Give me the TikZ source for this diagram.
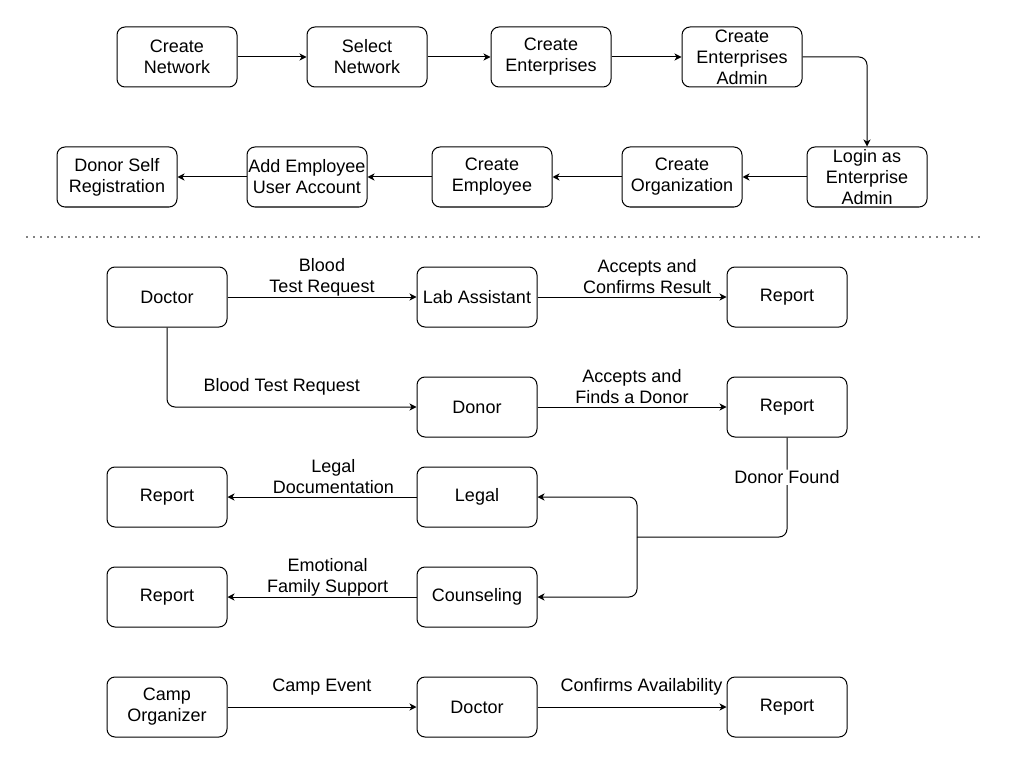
\documentclass[tikz,border=0pt]{standalone}
\usepackage{fontspec}
\setmainfont{Liberation Sans}
\usepackage{xcolor}
\usepackage{tikz}
\usetikzlibrary{arrows.meta}
\definecolor{ink}{HTML}{000000}
\definecolor{paper}{HTML}{FFFFFF}
\tikzset{
  box/.style={draw=ink, line width=1pt, rounded corners=8pt, minimum width=120pt, minimum height=60pt,
    align=center, inner xsep=1pt, inner ysep=0pt, text=ink, font=\fontsize{18}{21}\selectfont},
  flow/.style={-{Stealth[length=7pt,width=7pt,inset=2pt]}, line width=1pt, draw=ink, rounded corners=8pt},
  lbl/.style={align=center, inner sep=1pt, text=ink, font=\fontsize{18}{21}\selectfont},
  up/.style={lbl, yshift=20pt},
  sepline/.style={line width=1.6pt, dash pattern=on 0pt off 7pt, line cap=round, draw=ink}
}

\begin{document}
\begin{tikzpicture}[x=1pt, y=-1pt]
  \fill[paper] (0,0) rectangle (1014,762);
  \useasboundingbox (0,0) rectangle (1014,762);

  % setup steps
  \node[box] (cnet)    at (177,57)  {Create\\Network};
  \node[box] (snet)    at (367,57)  {Select\\Network};
  \node[box] (cent)    at (551,57)  {Create\\Enterprises};
  \node[box] (cadm)    at (742,57)  {Create\\Enterprises\\Admin};
  \node[box] (login)   at (867,177) {Login as\\Enterprise\\Admin};
  \node[box] (corg)    at (682,177) {Create\\Organization};
  \node[box] (cemp)    at (492,177) {Create\\Employee};
  \node[box] (addemp)  at (307,177) {Add Employee\\User Account};
  \node[box] (donself) at (117,177) {Donor Self\\Registration};

  \draw[flow] (cnet) -- (snet);
  \draw[flow] (snet) -- (cent);
  \draw[flow] (cent) -- (cadm);
  \draw[flow] (cadm.east) -| (login.north);
  \draw[flow] (login) -- (corg);
  \draw[flow] (corg) -- (cemp);
  \draw[flow] (cemp) -- (addemp);
  \draw[flow] (addemp) -- (donself);

  \coordinate (sepL) at (27,237);
  \coordinate (sepR) at (982,237);
  \draw[sepline] (sepL) -- (sepR);

  % work requests
  \node[box] (doc1)  at (167,297) {Doctor};
  \node[box] (lab)   at (477,297) {Lab Assistant};
  \node[box] (rep1)  at (787,297) {Report};
  \node[box] (donor) at (477,407) {Donor};
  \node[box] (rep2)  at (787,407) {Report};
  \node[box] (legal) at (477,497) {Legal};
  \node[box] (rep3)  at (167,497) {Report};
  \node[box] (couns) at (477,597) {Counseling};
  \node[box] (rep4)  at (167,597) {Report};
  \node[box] (camp)  at (167,707) {Camp\\Organizer};
  \node[box] (doc2)  at (477,707) {Doctor};
  \node[box] (rep5)  at (787,707) {Report};
  \coordinate (split) at (637,537);

  \draw[flow] (doc1) -- node[up, pos=.5]{Blood\\Test Request} (lab);
  \draw[flow] (lab) -- node[up, pos=.58]{Accepts and\\Confirms Result} (rep1);
  \draw[flow] (doc1.south) |- node[up, pos=.73]{Blood Test Request} (donor.west);
  \draw[flow] (donor) -- node[up, pos=.5]{Accepts and\\Finds a Donor} (rep2);
  \draw[flow, -] (rep2.south) |- node[lbl, fill=paper, pos=.2]{Donor Found} (split);
  \draw[flow] (split) |- (legal.east);
  \draw[flow] (split) |- (couns.east);
  \draw[flow] (legal) -- node[up, pos=.44]{Legal\\Documentation} (rep3);
  \draw[flow] (couns) -- node[up, pos=.47]{Emotional\\Family Support} (rep4);
  \draw[flow] (camp) -- node[up, pos=.5]{Camp Event} (doc2);
  \draw[flow] (doc2) -- node[up, pos=.55]{Confirms Availability} (rep5);
\end{tikzpicture}
\end{document}
